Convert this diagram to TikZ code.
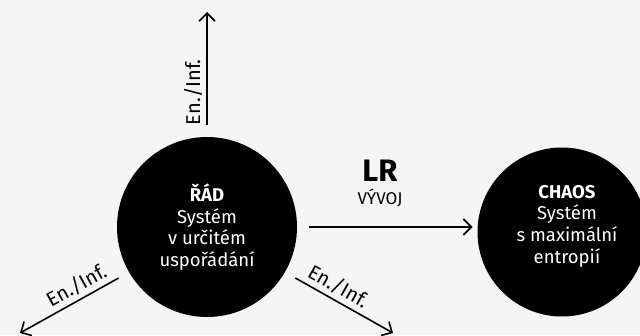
\documentclass[tikz,border=0pt]{standalone}
\usepackage{fontspec}
\setmainfont{Fira Sans}
\usetikzlibrary{arrows.meta,positioning}
\definecolor{bggray}{RGB}{245,245,245}

\begin{document}
\begin{tikzpicture}[x=1pt,y=-1pt,
  orb/.style={circle,fill=black,text=white,inner sep=0pt,align=center,
    font=\fontsize{18.5}{21.7}\selectfont},
  flow/.style={line width=1.6pt,-{Straight Barb[length=8pt,width=16pt]}},
  lbl/.style={font=\fontsize{20}{20}\selectfont,inner sep=4pt}
]

% page and background
\useasboundingbox (0,0) rectangle (640,335);
\fill[bggray] (0,0) rectangle (640,335);
\clip (0,0) rectangle (640,335);

% the two states
\node[orb,minimum size=180pt,outer sep=12pt] (rad) at (207,227)
  {\textbf{ŘÁD}\\Systém\\v určitém\\uspořádání};
\node[orb,minimum size=169pt,outer sep=5pt] (chaos) at (562,232) {};
\node[orb,fill=none] (chaostext) at (567,226)
  {\textbf{CHAOS}\\Systém\\s maximální\\entropií};

% free ends of the energy/information arrows
\coordinate (up) at (207,12);
\coordinate (dl) at (20,333);
\coordinate (dr) at (393,333);

\draw[flow] (rad.90) -- (up) node[lbl,pos=0.29,sloped,above] {En./Inf.};
\draw[flow] (rad.210) -- (dl) node[lbl,pos=0.36,sloped,above] {En./Inf.};
\draw[flow] (rad.-30) -- (dr) node[lbl,pos=0.37,sloped,above] {En./Inf.};

% development towards chaos
\draw[flow] (rad.east) -- (rad.east -| chaos.west);
\node[font=\fontsize{31}{31}\selectfont\bfseries] (lr) at (380,171) {LR};
\node[font=\fontsize{17}{17}\selectfont] (vyvoj) at (380,198) {VÝVOJ};

\end{tikzpicture}
\end{document}
